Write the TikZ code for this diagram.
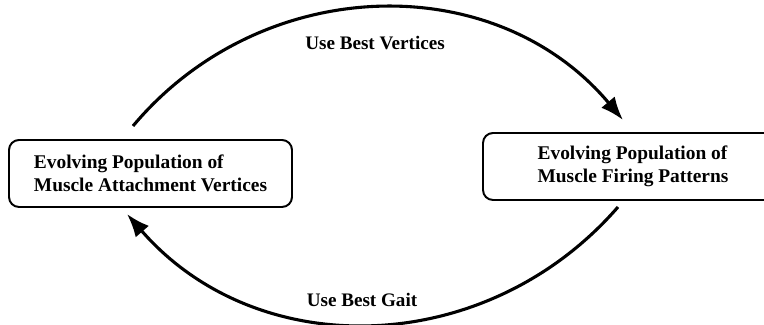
\documentclass[tikz,border=0pt]{standalone}
\usepackage{fontspec}
\setmainfont{Liberation Serif}
\usetikzlibrary{arrows.meta}
\tikzset{popbox/.style={draw, line width=1.4pt, rounded corners=0.25cm, align=left, minimum height=1.675cm, inner sep=0pt, font=\fontsize{13.8}{16.2}\selectfont\bfseries}}
\tikzset{loopline/.style={line width=2.2pt, -{Latex[length=5.8mm,width=4.4mm]}, looseness=1.04}}
\tikzset{looplabel/.style={font=\fontsize{13.6}{16}\selectfont\bfseries}}

\begin{document}
\begin{tikzpicture}
		\useasboundingbox (0,0) rectangle (19.1,-8.125);
		\node[popbox, minimum width=7.075cm] (verts) at (3.7625,-4.3375) {Evolving Population of\\Muscle Attachment Vertices};
		\node[popbox, minimum width=7.5cm] (fires) at (15.825,-4.1625) {Evolving Population of\\Muscle Firing Patterns};
		\coordinate (vtail) at (3.325,-3.15);
		\coordinate (vtip) at (15.575,-3.0);
		\coordinate (gtail) at (15.45,-5.175);
		\coordinate (gtip) at (3.175,-5.35);
		\draw[loopline] (vtail) to[out=50, in=130] (vtip);
		\draw[loopline] (gtail) to[out=-131, in=-49] (gtip);
		\node[looplabel] (vlabel) at (9.375,-1.075) {Use Best Vertices};
		\node[looplabel] (glabel) at (9.05,-7.5) {Use Best Gait};
	\end{tikzpicture}
\end{document}
